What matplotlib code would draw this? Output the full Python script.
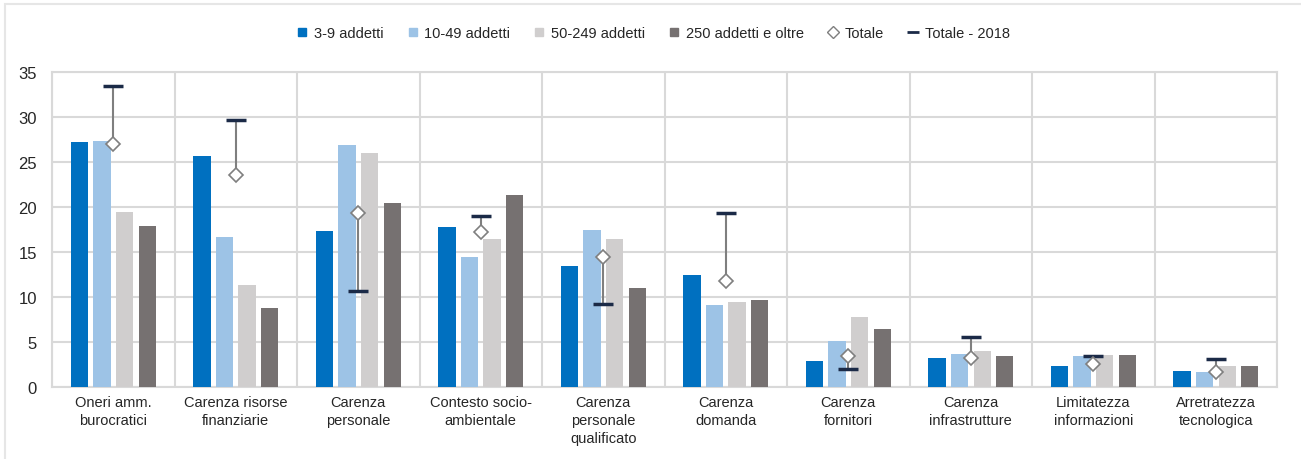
import numpy as np
import matplotlib.pyplot as plt
from matplotlib.lines import Line2D
from matplotlib.patches import Rectangle

plt.rcParams['font.family'] = ['Liberation Sans', 'DejaVu Sans']

# Dati
categorie = ["Oneri amm.\nburocratici", "Carenza risorse\nfinanziarie", "Carenza\npersonale",
             "Contesto socio-\nambientale", "Carenza\npersonale\nqualificato", "Carenza\ndomanda",
             "Carenza\nfornitori", "Carenza\ninfrastrutture", "Limitatezza\ninformazioni",
             "Arretratezza\ntecnologica"]
serie_nomi = ["3-9 addetti", "10-49 addetti", "50-249 addetti", "250 addetti e oltre"]
addetti_3_9 = [27.2, 25.7, 17.3, 17.8, 13.5, 12.5, 2.9, 3.2, 2.3, 1.8]
addetti_10_49 = [27.3, 16.7, 26.9, 14.4, 17.4, 9.1, 5.1, 3.7, 3.4, 1.7]
addetti_50_249 = [19.5, 11.3, 26.0, 16.4, 16.4, 9.5, 7.8, 4.0, 3.6, 2.3]
addetti_250 = [17.9, 8.8, 20.4, 21.3, 11.0, 9.7, 6.5, 3.4, 3.6, 2.3]
totale = [27.0, 23.6, 19.3, 17.2, 14.4, 11.8, 3.5, 3.2, 2.6, 1.7]
totale_2018 = [33.4, 29.7, 10.7, 19.0, 9.2, 19.3, 2.0, 5.6, 3.5, 3.1]

colori = ['#0070C0', '#9DC3E6', '#D0CECE', '#767171']
col_testo = '#262626'
col_griglia = '#D9D9D9'

fig = plt.figure(figsize=(13.01, 4.6), dpi=100)
ax = fig.add_axes([0.040, 0.1565, 0.9416, 0.6848])

# Cornice esterna
fig.patches.append(Rectangle((5/1301, -0.05), 1.1, 1 - 5/460 + 0.05, transform=fig.transFigure,
                             fill=False, edgecolor='#E6E6E6', linewidth=1.5))

x = np.arange(len(categorie))
w = 0.14
passo = 0.184
serie = [addetti_3_9, addetti_10_49, addetti_50_249, addetti_250]
for i, (vals, c) in enumerate(zip(serie, colori)):
    ax.bar(x + (i - 1.5) * passo, vals, width=w, color=c, zorder=3, label=serie_nomi[i])

# Linee tra Totale e Totale 2018
ax.vlines(x, totale, totale_2018, color='#7F7F7F', linewidth=1.5, zorder=4)
ax.plot(x, totale_2018, linestyle='none', marker='_', markersize=14, markeredgewidth=2.5,
        color='#1B2A47', zorder=5, label='Totale - 2018')
ax.plot(x, totale, linestyle='none', marker='D', markersize=7.5, markerfacecolor='white',
        markeredgecolor='#7F7F7F', markeredgewidth=1.2, zorder=6, label='Totale')

ax.set_xlim(-0.5, len(categorie) - 0.5)
ax.set_ylim(0, 35)
ax.set_yticks(range(0, 36, 5))
ax.set_xticks(x)
ax.set_xticklabels(categorie, fontsize=10.5, color=col_testo, linespacing=1.35)
ax.tick_params(axis='y', labelsize=12, colors=col_testo, length=0, pad=11)
ax.tick_params(axis='x', length=0, pad=6)
for lab in ax.get_xticklabels():
    lab.set_verticalalignment('top')

ax.set_xticks(np.arange(-0.5, len(categorie)), minor=True)
ax.tick_params(axis='x', which='minor', length=0)
ax.grid(axis='y', which='major', color=col_griglia, linewidth=1.5, zorder=0)
ax.grid(axis='x', which='minor', color=col_griglia, linewidth=1.5, zorder=0)
ax.grid(axis='x', which='major', visible=False)
for s in ax.spines.values():
    s.set_color(col_griglia)
    s.set_linewidth(1.5)

# Legenda
handles = [Line2D([], [], linestyle='none', marker='s', markersize=6, color=c) for c in colori]
handles.append(Line2D([], [], linestyle='none', marker='D', markersize=6, markerfacecolor='white',
                      markeredgecolor='#7F7F7F', markeredgewidth=1))
handles.append(Line2D([], [], linestyle='none', marker='_', markersize=9, markeredgewidth=2,
                      color='#1B2A47'))
etichette = serie_nomi + ['Totale', 'Totale - 2018']
fig.legend(handles, etichette, loc='center', bbox_to_anchor=(0.502, 0.926), ncol=6, frameon=False,
           fontsize=10.5, handlelength=0.8, handletextpad=0.4, columnspacing=1.6,
           labelcolor=col_testo)

fig.savefig('out.png', dpi=100)
